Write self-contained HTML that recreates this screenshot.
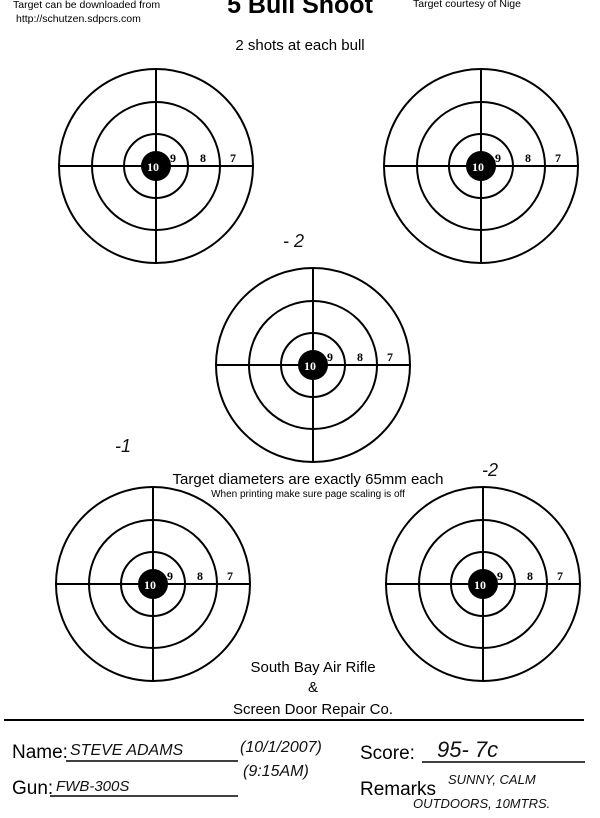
<!DOCTYPE html>
<html><head><meta charset="utf-8"><style>
html,body{margin:0;padding:0;background:#fff;width:600px;height:818px;overflow:hidden}
svg{display:block}
.c{font-family:"Liberation Sans",sans-serif;fill:#000}
.h{font-family:"Liberation Sans",sans-serif;font-style:italic;fill:#111}
.n{font-family:"Liberation Serif",serif;font-weight:bold;font-size:12px}
</style></head><body>
<svg width="600" height="818" viewBox="0 0 600 818" xmlns="http://www.w3.org/2000/svg">
<defs>
<g id="t">
<circle r="97" fill="none" stroke="#000" stroke-width="2"/>
<circle r="64" fill="none" stroke="#000" stroke-width="2"/>
<circle r="32" fill="none" stroke="#000" stroke-width="2"/>
<line x1="-97" y1="0" x2="97" y2="0" stroke="#000" stroke-width="2"/>
<line x1="0" y1="-97" x2="0" y2="97" stroke="#000" stroke-width="2"/>
<circle r="15" fill="#000"/>
<text x="-9" y="5" fill="#fff" class="n" font-size="14">10</text>
<text x="14" y="-4" class="n">9</text>
<text x="44" y="-4" class="n">8</text>
<text x="74" y="-4" class="n">7</text>
</g>
</defs>
<use href="#t" x="156" y="166"/>
<use href="#t" x="481" y="166"/>
<use href="#t" x="313" y="365"/>
<use href="#t" x="153" y="584"/>
<use href="#t" x="483" y="584"/>

<text class="c" x="13" y="8" font-size="10.5">Target can be downloaded from</text>
<text class="c" x="16" y="22" font-size="10.5">http://schutzen.sdpcrs.com</text>
<text class="c" x="300" y="13" font-size="25" text-anchor="middle" font-weight="bold">5 Bull Shoot</text>
<text class="c" x="413" y="7" font-size="10.5">Target courtesy of Nige</text>
<text class="c" x="300" y="50" font-size="15" text-anchor="middle">2 shots at each bull</text>

<text class="h" x="283" y="247" font-size="18">- 2</text>
<text class="h" x="115" y="452" font-size="18">-1</text>
<text class="h" x="482" y="476" font-size="18">-2</text>

<text class="c" x="308" y="484" font-size="15" text-anchor="middle">Target diameters are exactly 65mm each</text>
<text class="c" x="308" y="497" font-size="10" text-anchor="middle">When printing make sure page scaling is off</text>

<text class="c" x="313" y="672" font-size="15" text-anchor="middle">South Bay Air Rifle</text>
<text class="c" x="313" y="692" font-size="15" text-anchor="middle">&amp;</text>
<text class="c" x="313" y="714" font-size="15" text-anchor="middle">Screen Door Repair Co.</text>
<line x1="4" y1="720" x2="584" y2="720" stroke="#000" stroke-width="2"/>

<text class="c" x="12" y="758" font-size="19">Name:</text>
<line x1="66" y1="761" x2="238" y2="761" stroke="#000" stroke-width="1.5"/>
<text class="h" x="70" y="755" font-size="16">STEVE ADAMS</text>
<text class="h" x="240" y="752" font-size="16">(10/1/2007)</text>
<text class="h" x="243" y="776" font-size="16">(9:15AM)</text>
<text class="c" x="12" y="794" font-size="19">Gun:</text>
<line x1="50" y1="796" x2="238" y2="796" stroke="#000" stroke-width="1.5"/>
<text class="h" x="56" y="791" font-size="15">FWB-300S</text>
<text class="c" x="360" y="759" font-size="19">Score:</text>
<line x1="422" y1="762" x2="585" y2="762" stroke="#000" stroke-width="1.5"/>
<text class="h" x="437" y="757" font-size="22">95- 7c</text>
<text class="c" x="360" y="795" font-size="19">Remarks</text>
<text class="h" x="448" y="784" font-size="13">SUNNY, CALM</text>
<text class="h" x="413" y="808" font-size="13">OUTDOORS, 10MTRS.</text>
</svg>
</body></html>
